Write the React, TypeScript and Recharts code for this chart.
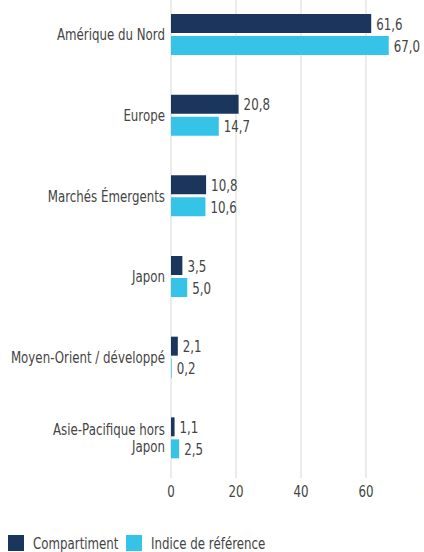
import React from 'react';
import { BarChart, Bar, XAxis, YAxis, CartesianGrid, Legend, LabelList } from 'recharts';

const categories = [
    'Amérique du Nord',
    'Europe',
    'Marchés Émergents',
    'Japon',
    'Moyen-Orient / développé',
    'Asie-Pacifique hors Japon',
];
const fundValues = [61.6, 20.8, 10.8, 3.5, 2.1, 1.1];
const benchmarkValues = [67.0, 14.7, 10.6, 5.0, 0.2, 2.5];
const xTicks = [0, 20, 40, 60, 80];
const seriesNames = ['Compartiment', 'Indice de référence'];

const NAVY = '#1b365d';
const CYAN = '#35c4e8';
const TEXT = '#444444';
const FONT = '"DejaVu Sans", sans-serif';
const FS = 16;
const SQUEEZE = 0.74; // the original uses a condensed face

const data = categories.map((name, i) => ({
    name,
    fund: fundValues[i],
    benchmark: benchmarkValues[i],
}));

const fmt = (v: any) => Number(v).toFixed(1).replace('.', ',');

// text drawn narrower, anchored at (x, y)
const NarrowText = ({ x, y, anchor = 'start', dy = 0, children }: any) => (
    <text
        transform={`translate(${x},${y}) scale(${SQUEEZE},1)`}
        x={0}
        y={dy}
        textAnchor={anchor}
        fill={TEXT}
        fontSize={FS}
        fontFamily={FONT}
    >
        {children}
    </text>
);

// split long labels on the last space so they wrap like the original
const CategoryTick = (props: any) => {
    const { x, y, payload } = props;
    const label: string = payload.value;
    let lines = [label];
    if (label.length > 24) {
        const cut = label.lastIndexOf(' ');
        lines = [label.slice(0, cut), label.slice(cut + 1)];
    }
    const lh = 17;
    const start = -((lines.length - 1) * lh) / 2;
    return (
        <g>
            {lines.map((l, i) => (
                <NarrowText key={i} x={x} y={y + start + i * lh} dy={6} anchor="end">
                    {l}
                </NarrowText>
            ))}
        </g>
    );
};

const NumberTick = (props: any) => {
    const { x, y, payload } = props;
    return (
        <NarrowText x={x} y={y} dy={12} anchor="middle">
            {payload.value}
        </NarrowText>
    );
};

const ValueLabel = (props: any) => {
    const { x, y, width, height, value } = props;
    return (
        <NarrowText x={x + width + 5} y={y + height / 2} dy={6}>
            {fmt(value)}
        </NarrowText>
    );
};

const LegendContent = () => (
    <svg width={400} height={24}>
        {seriesNames.map((n, i) => (
            <g key={n} transform={`translate(${i * 118},0)`}>
                <rect x={0} y={3} width={16} height={16} fill={i === 0 ? NAVY : CYAN} />
                <NarrowText x={25} y={11} dy={6}>
                    {n}
                </NarrowText>
            </g>
        ))}
    </svg>
);

export default function App() {
    return (
        <div style={{ position: 'absolute', left: 0, top: 0, width: 424, height: 552, overflow: 'hidden', background: '#fff' }}>
            <div style={{ position: 'absolute', left: 0, top: -6 }}>
                <BarChart
                    width={455}
                    height={538}
                    data={data}
                    layout="vertical"
                    margin={{ top: 0, right: 24, left: 0, bottom: 0 }}
                    barSize={19}
                    barGap={3}
                >
                    <CartesianGrid horizontal={false} vertical stroke="#ebebeb" strokeWidth={2} />
                    <XAxis
                        type="number"
                        domain={[0, 80]}
                        ticks={xTicks}
                        axisLine={false}
                        tickLine={false}
                        tickSize={0}
                        tickMargin={7}
                        height={30}
                        tick={<NumberTick />}
                    />
                    <YAxis
                        type="category"
                        dataKey="name"
                        width={171}
                        axisLine={false}
                        tickLine={false}
                        tickSize={0}
                        tickMargin={6}
                        tick={<CategoryTick />}
                    />
                    <Legend
                        verticalAlign="bottom"
                        align="left"
                        content={<LegendContent />}
                        wrapperStyle={{ left: 8, top: 538, bottom: 'auto', height: 24, width: 400 }}
                    />
                    <Bar dataKey="fund" name={seriesNames[0]} fill={NAVY} isAnimationActive={false}>
                        <LabelList dataKey="fund" content={<ValueLabel />} />
                    </Bar>
                    <Bar dataKey="benchmark" name={seriesNames[1]} fill={CYAN} isAnimationActive={false}>
                        <LabelList dataKey="benchmark" content={<ValueLabel />} />
                    </Bar>
                </BarChart>
            </div>
        </div>
    );
}
